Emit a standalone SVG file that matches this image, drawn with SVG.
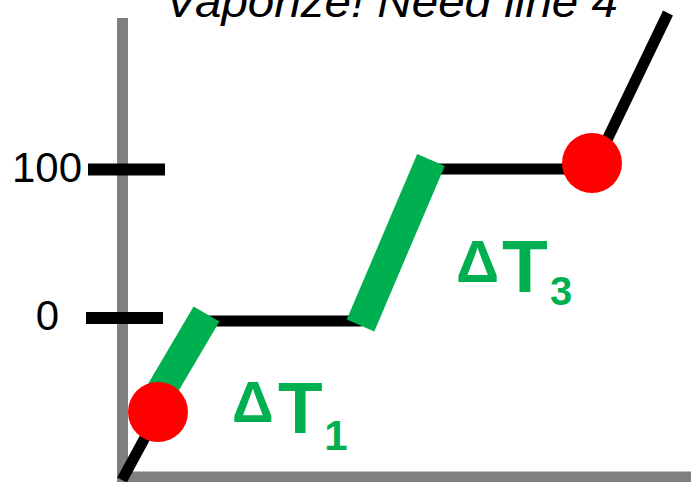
<svg xmlns="http://www.w3.org/2000/svg" width="691" height="482" viewBox="0 0 691 482">
  <style>
    .axis { stroke: #808080; stroke-width: 11; fill: none; }
    .curve { stroke: #000000; stroke-width: 11; fill: none; stroke-linejoin: miter; }
    .tick { stroke: #000000; stroke-width: 12; }
    .heat { stroke: #00B050; stroke-width: 30; }
    .dot { fill: #FF0000; }
    .lbl { font-family: "Liberation Sans", Arial, sans-serif; font-size: 42px; fill: #000000; }
    .note { font-family: "Liberation Sans", Arial, sans-serif; font-style: italic; font-size: 45px; fill: #000000; }
    .dt { font-family: "Liberation Sans", Arial, sans-serif; font-weight: bold; fill: #00B050; }
  </style>
  <rect width="691" height="482" fill="#FFFFFF"/>
  <g id="axes">
    <line class="axis" x1="122.5" y1="18" x2="122.5" y2="482"/>
    <line class="axis" x1="117" y1="477" x2="691" y2="477"/>
  </g>
  <g id="curve">
    <polyline class="curve" points="122,480 208,321 358,321 432,169 593,169 668,13"/>
  </g>
  <g id="ticks">
    <line class="tick" x1="88" y1="169.5" x2="165" y2="169.5"/>
    <line class="tick" x1="86" y1="318" x2="163" y2="318"/>
    <text class="lbl" x="82" y="182" text-anchor="end">100</text>
    <text class="lbl" x="59" y="330" text-anchor="end">0</text>
  </g>
  <g id="heating">
    <line class="heat" x1="206.5" y1="314" x2="160" y2="393"/>
    <line class="heat" x1="431" y1="160" x2="360.5" y2="325.5"/>
  </g>
  <g id="points">
    <circle class="dot" cx="158" cy="412" r="30"/>
    <circle class="dot" cx="592" cy="163" r="30"/>
  </g>
  <g id="labels">
    <text class="note" x="165" y="17" textLength="453" lengthAdjust="spacingAndGlyphs">Vaporize! Need line 4</text>
    <text class="dt"><tspan x="232" y="422" font-size="58">Δ</tspan><tspan x="278" y="433" font-size="73">T</tspan><tspan x="336" y="450" font-size="42" text-anchor="middle">1</tspan></text>
    <text class="dt"><tspan x="456" y="282" font-size="60">Δ</tspan><tspan x="502" y="292" font-size="75">T</tspan><tspan x="561" y="305" font-size="40" text-anchor="middle">3</tspan></text>
  </g>
</svg>
